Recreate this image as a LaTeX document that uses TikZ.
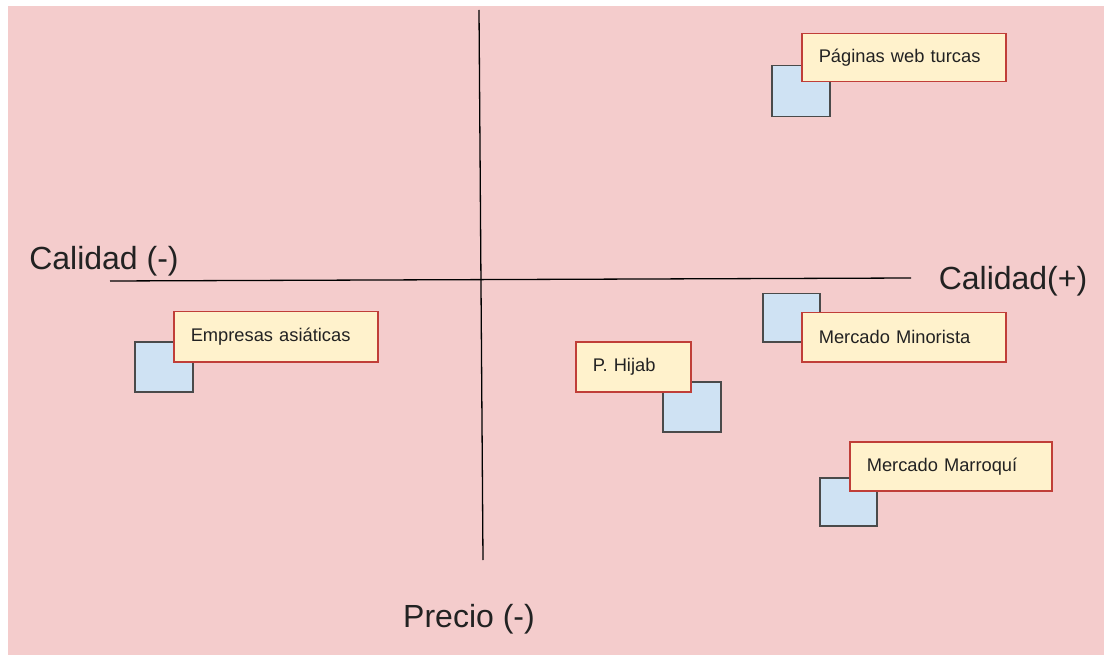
\documentclass[tikz,border=0pt]{standalone}
\usepackage{fontspec}
\setmainfont{Liberation Sans}
\definecolor{bgpink}{HTML}{F4CCCC}
\definecolor{boxyellow}{HTML}{FFF2CC}
\definecolor{boxred}{RGB}{192,62,56}
\definecolor{sqblue}{HTML}{CFE2F3}
\definecolor{sqborder}{HTML}{4A4A4A}
\definecolor{txt}{HTML}{222222}
\begin{document}
\begin{tikzpicture}[x=1pt,y=-1pt,
  sq/.style={draw=sqborder, fill=sqblue, line width=1.5pt, anchor=north west, inner sep=0pt},
  lbl/.style={draw=boxred, fill=boxyellow, line width=1.5pt, anchor=north west, inner xsep=17pt, inner ysep=0pt,
    align=left, text=txt, font=\fontsize{18.3}{21}\selectfont},
  axislbl/.style={font=\fontsize{32}{37}\selectfont, text=txt, inner sep=0pt},
  axis/.style={draw=black, line width=1.3pt}]
\useasboundingbox (0,0) rectangle (1104,655);
\fill[bgpink] (8,6) rectangle (1104,655);
% axes
\coordinate (vtop) at (479,10);
\coordinate (vbot) at (483,560);
\coordinate (hleft) at (110,281);
\coordinate (hright) at (911,278);
\draw[axis] (vtop) -- (vbot);
\draw[axis] (hleft) -- (hright);
\node[axislbl] (qminus) at (104,261) {Calidad (-)};
\node[axislbl] (qplus) at (1013,281) {Calidad(+)};
\node[axislbl] (pminus) at (469,619) {Precio (-)};
% blue squares
\node[sq, minimum width=58pt, minimum height=51pt] (s1) at (771,65) {};
\node[sq, minimum width=58pt, minimum height=50pt] (s2) at (134,341) {};
\node[sq, minimum width=58pt, minimum height=50pt] (s3) at (662,381) {};
\node[sq, minimum width=57pt, minimum height=48pt] (s4) at (762,293) {};
\node[sq, minimum width=57pt, minimum height=48pt] (s5) at (819,477) {};
% labels
\node[lbl, text width=170pt, minimum height=48pt] (l1) at (801,33) {Páginas web turcas};
\node[lbl, text width=170pt, minimum height=50pt] (l2) at (173,311) {Empresas asiáticas};
\node[lbl, text width=81pt, minimum height=50pt] (l3) at (575,341) {P. Hijab};
\node[lbl, text width=170pt, minimum height=49pt] (l4) at (801,312) {Mercado Minorista};
\node[lbl, text width=168pt, minimum height=49pt] (l5) at (849,441) {Mercado Marroquí};
\end{tikzpicture}
\end{document}
